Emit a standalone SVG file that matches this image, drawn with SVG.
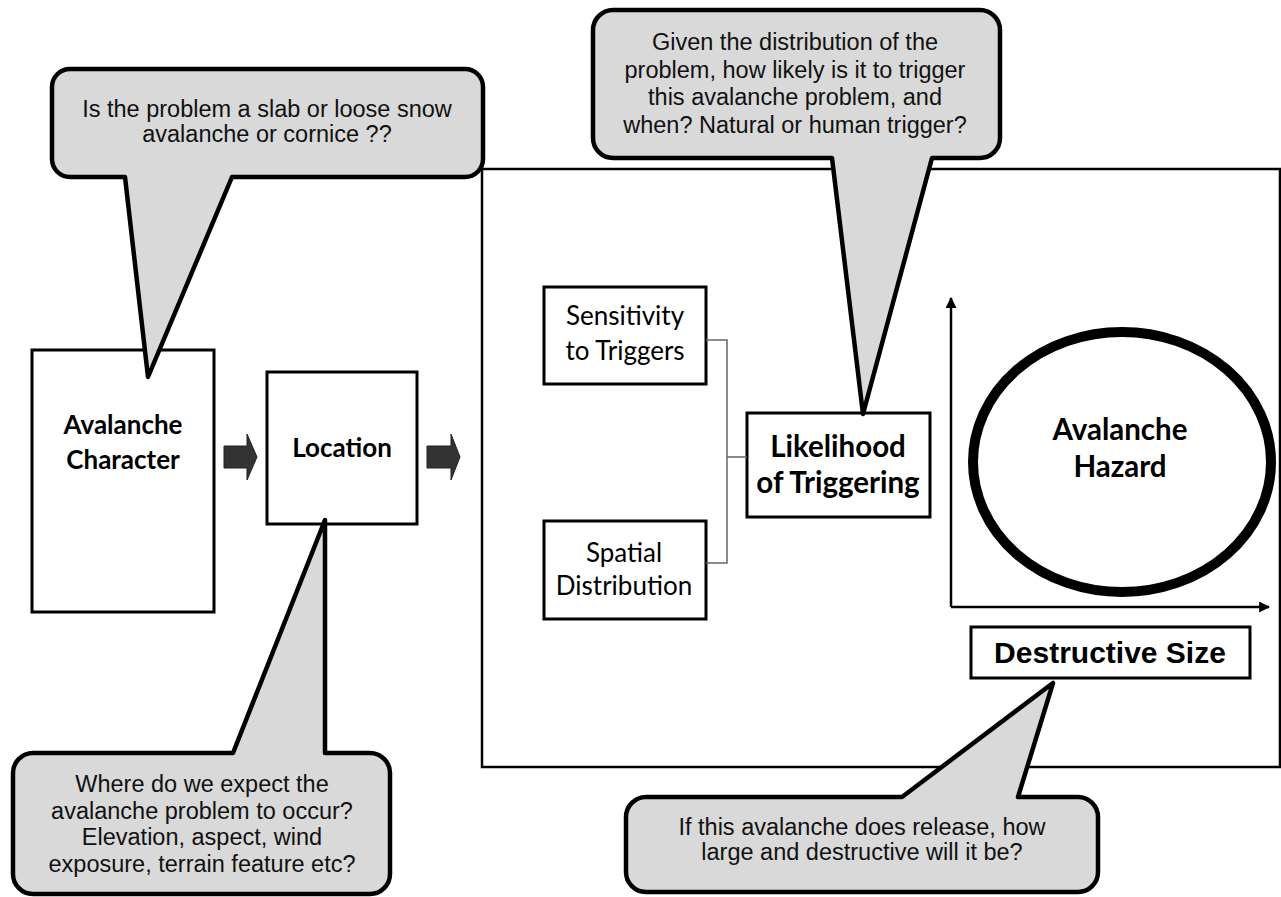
<svg xmlns="http://www.w3.org/2000/svg" width="1281" height="897" viewBox="0 0 1281 897">
  <style>
    .box { fill: #ffffff; stroke: #000000; stroke-width: 3; }
    .frame { fill: none; stroke: #000000; stroke-width: 2.5; }
    .callout { fill: #d9d9d9; stroke: #000000; stroke-width: 4.5; stroke-linejoin: round; }
    .ctext { font-family: "Liberation Sans", Arial, sans-serif; font-size: 23.5px; fill: #111111; text-anchor: middle; }
    .lbl { font-family: Lato, "Open Sans", sans-serif; font-size: 26px; fill: #000000; text-anchor: middle; }
    .big { font-size: 29.5px; }
    .bold { font-weight: bold; }
    .block { fill: #333333; stroke: #222222; stroke-width: 1; }
    .bracket { fill: none; stroke: #666666; stroke-width: 1.5; }
    .axis { fill: none; stroke: #000000; stroke-width: 2.5; }
  </style>
  <defs>
    <marker id="axisHead" viewBox="0 0 10 10" refX="9" refY="5" markerWidth="4.4" markerHeight="4.4" orient="auto" markerUnits="strokeWidth">
      <path d="M0,0 L10,5 L0,10 Z" fill="#000000"/>
    </marker>
  </defs>

  <!-- outer frame around the likelihood / hazard part -->
  <g id="frame">
    <rect class="frame" x="482" y="169" width="798" height="598"/>
  </g>

  <!-- flow boxes -->
  <g id="avalanche-character">
    <rect class="box" x="32" y="350" width="182" height="262"/>
    <text class="lbl bold" x="123" y="434">Avalanche</text>
    <text class="lbl bold" x="123" y="469">Character</text>
  </g>
  <g id="location">
    <rect class="box" x="267" y="372" width="150" height="152"/>
    <text class="lbl bold" x="342" y="457">Location</text>
  </g>
  <g id="sensitivity">
    <rect class="box" x="544" y="287" width="162" height="97"/>
    <text class="lbl" x="625" y="325">Sensitivity</text>
    <text class="lbl" x="625" y="360">to Triggers</text>
  </g>
  <g id="spatial">
    <rect class="box" x="544" y="521" width="162" height="98"/>
    <text class="lbl" x="624" y="562">Spatial</text>
    <text class="lbl" x="624" y="595">Distribution</text>
  </g>
  <g id="likelihood">
    <rect class="box" x="747" y="413" width="183" height="104"/>
    <text class="lbl bold big" x="838" y="457">Likelihood</text>
    <text class="lbl bold big" x="838" y="493">of Triggering</text>
  </g>
  <g id="hazard">
    <ellipse cx="1122" cy="462" rx="149" ry="130" fill="#ffffff" stroke="#000000" stroke-width="10"/>
    <text class="lbl bold big" x="1120" y="440">Avalanche</text>
    <text class="lbl bold big" x="1120" y="477">Hazard</text>
  </g>
  <g id="destructive-size">
    <rect class="box" x="971" y="627" width="279" height="51"/>
    <text x="1110" y="663" style="font-family:'Liberation Sans',Arial,sans-serif;font-size:30px;font-weight:bold;text-anchor:middle">Destructive Size</text>
  </g>

  <!-- connectors: block arrows, bracket, axes -->
  <g id="connectors">
    <polygon class="block" points="224,446 247,446 247,434 257,457 247,480 247,468 224,468"/>
    <polygon class="block" points="427,446 451,446 451,434 460,457 451,480 451,468 427,468"/>
    <path class="bracket" d="M706,340 H727 V563 H706 M727,457 H747"/>
    <path class="axis" d="M951,607 V298" marker-end="url(#axisHead)"/>
    <path class="axis" d="M951,607 H1269" marker-end="url(#axisHead)"/>
  </g>

  <!-- speech-bubble callouts -->
  <g id="callout-character">
    <path class="callout" d="M70,69 H465 A18,18 0 0 1 483,87 V159 A18,18 0 0 1 465,177 H232 L148,377 L125,177 H70 A18,18 0 0 1 52,159 V87 A18,18 0 0 1 70,69 Z"/>
    <text class="ctext" x="267" y="117">Is the problem a slab or loose snow</text>
    <text class="ctext" x="267" y="142">avalanche or cornice ??</text>
  </g>
  <g id="callout-likelihood">
    <path class="callout" d="M613,10 H980 A20,20 0 0 1 1000,30 V138 A20,20 0 0 1 980,158 H932 L863,414 L832,158 H613 A20,20 0 0 1 593,138 V30 A20,20 0 0 1 613,10 Z"/>
    <text class="ctext" x="795" y="50">Given the distribution of the</text>
    <text class="ctext" x="795" y="77.5">problem, how likely is it to trigger</text>
    <text class="ctext" x="795" y="105">this avalanche problem, and</text>
    <text class="ctext" x="795" y="132.5">when? Natural or human trigger?</text>
  </g>
  <g id="callout-location">
    <path class="callout" d="M33,753 H233 L325,520 V753 H370 A20,20 0 0 1 390,773 V874 A20,20 0 0 1 370,894 H33 A20,20 0 0 1 13,874 V773 A20,20 0 0 1 33,753 Z"/>
    <text class="ctext" x="202" y="792">Where do we expect the</text>
    <text class="ctext" x="202" y="818.5">avalanche problem to occur?</text>
    <text class="ctext" x="202" y="845">Elevation, aspect, wind</text>
    <text class="ctext" x="202" y="871.5">exposure, terrain feature etc?</text>
  </g>
  <g id="callout-size">
    <path class="callout" d="M646,797 H902 L1053,683 L1018,797 H1078 A20,20 0 0 1 1098,817 V872 A20,20 0 0 1 1078,892 H646 A20,20 0 0 1 626,872 V817 A20,20 0 0 1 646,797 Z"/>
    <text class="ctext" x="862" y="835">If this avalanche does release, how</text>
    <text class="ctext" x="862" y="860">large and destructive will it be?</text>
  </g>
</svg>
